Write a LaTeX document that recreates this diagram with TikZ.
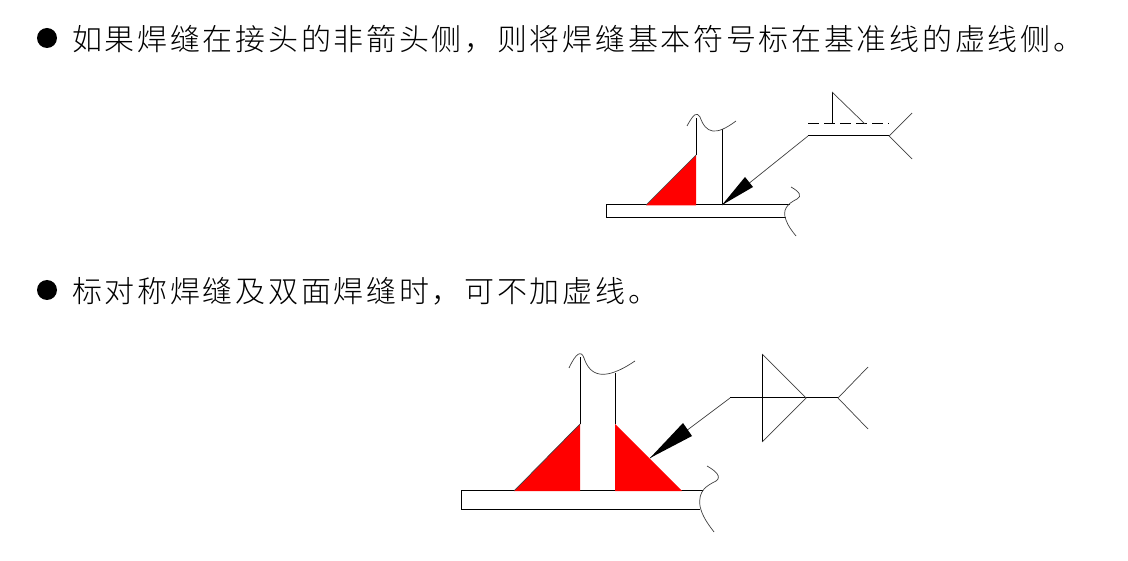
\documentclass[tikz,border=0pt]{standalone}
\usepackage{fontspec}
\newfontfamily\cjk[LetterSpace=9]{Noto Sans CJK SC Light}
\usetikzlibrary{calc,positioning}

\tikzset{
  caption/.style={anchor=west,inner sep=0pt,font=\cjk\fontsize{30pt}{32pt}\selectfont},
  bullet/.style={circle,fill=black,inner sep=0pt,minimum size=20pt},
  member/.style={line width=1pt},
  thin line/.style={line width=.7pt,color=black!75},
  weld/.style={fill=red},
}

\begin{document}
\begin{tikzpicture}[x=1pt,y=-1pt]

  \useasboundingbox (0,0) rectangle (1128,561);

  % first item
  \node (bullet_a) [bullet] at (47,38) {};
  \node (text_a) [caption] at (72,39) {如果焊缝在接头的非箭头侧，则将焊缝基本符号标在基准线的虚线侧。};

  \draw[member] (696,155) -- (696,118);
  \draw[member] (722,205) -- (722,129);
  \draw[thin line] (687,126) .. controls (694,113) and (697,112) .. (700,117) .. controls (706,134) and (716,136) .. (736,121);
  \draw[member] (790,205) -- (606,205) -- (606,218) -- (786,218);
  \draw[thin line] (791,187) .. controls (800,192) and (802,196) .. (797,199) .. controls (787,204) and (782,210) .. (786,220) .. controls (788,226) and (792,231) .. (796,236);
  \fill[weld] (646,205.5) -- (696,155) -- (696,205.5) -- cycle;
  \draw[thin line] (646,205) -- (696,155);

  \coordinate (tip_a) at (722,205);
  \coordinate (bend_a) at (808,136);
  \coordinate (fork_a) at (889,136);
  \draw[thin line] (tip_a) -- (bend_a);
  \fill (tip_a) -- (745,177) -- (753,187) -- cycle;
  \draw[member] (bend_a) -- (fork_a);
  \draw[thin line] (912,113) -- (fork_a) -- (912,159);
  \draw[member,dash pattern=on 11pt off 5pt] (808,124) -- (889,124);
  \draw[member] (832,124) -- (832,92);
  \draw[thin line] (832,92) -- (865,124);

  % second item
  \node (bullet_b) [bullet] at (47,290) {};
  \node (text_b) [caption] at (72,291) {标对称焊缝及双面焊缝时，可不加虚线。};

  \draw[member] (580,424) -- (580,357);
  \draw[member] (615,424) -- (615,373);
  \draw[thin line] (569,368) .. controls (576,353) and (581,350) .. (584,358) .. controls (590,376) and (604,382) .. (635,361);
  \draw[member] (703,490) -- (461,490) -- (461,509) -- (700,509);
  \draw[thin line] (707,466) .. controls (716,471) and (722,477) .. (716,481) .. controls (706,486) and (698,491) .. (700,506) .. controls (702,516) and (708,524) .. (714,532);
  \fill[weld] (514,491) -- (580,424) -- (580,491) -- cycle;
  \fill[weld] (615,491) -- (615,424) -- (682,491) -- cycle;
  \draw[thin line] (514,491) -- (580,424);

  \coordinate (tip_b) at (650,458);
  \coordinate (bend_b) at (730,398);
  \coordinate (fork_b) at (838,398);
  \draw[thin line] (tip_b) -- (bend_b);
  \fill (tip_b) -- (683,423) -- (692,436) -- cycle;
  \draw[member] (bend_b) -- (fork_b);
  \draw[thin line] (868,367) -- (fork_b) -- (868,429);
  \draw[member] (762,354) -- (762,442);
  \draw[thin line] (762,354) -- (806,398) -- (762,442);

\end{tikzpicture}
\end{document}
